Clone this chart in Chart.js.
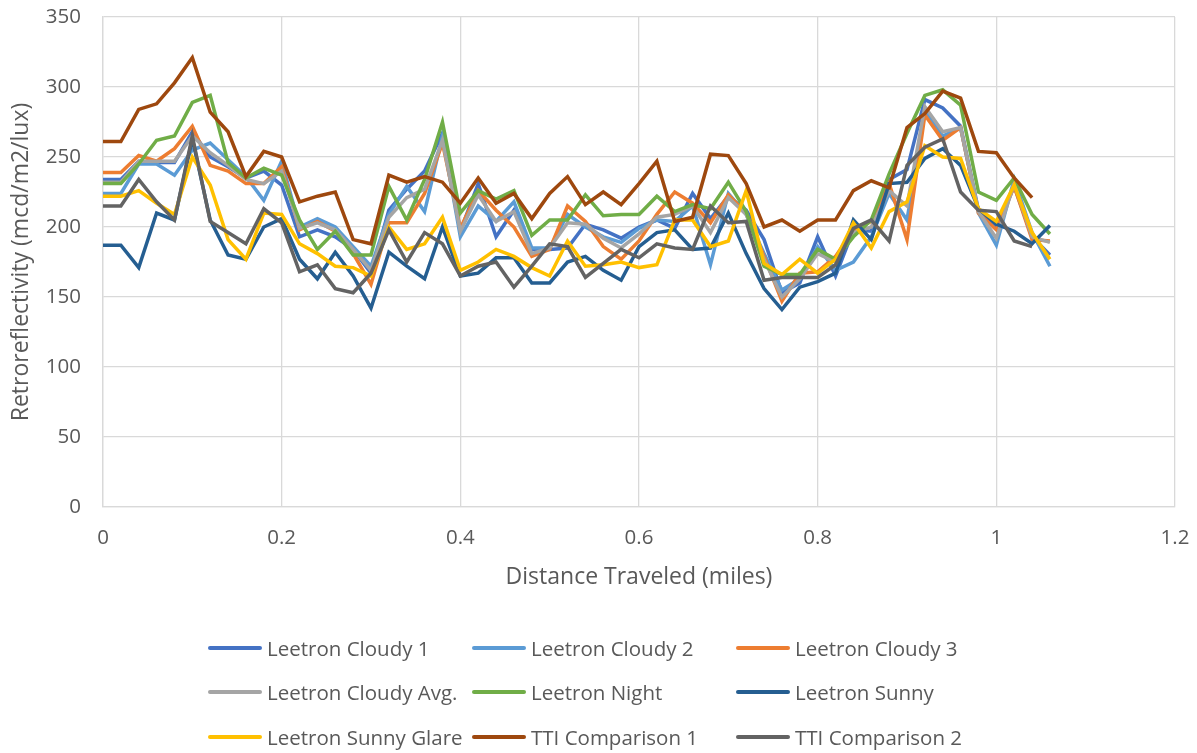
<!DOCTYPE html>
<html>
<head>
<meta charset="utf-8">
<script src="https://cdn.jsdelivr.net/npm/chart.js@4.4.1/dist/chart.umd.min.js"></script>
<style>
body { margin: 0; background: #fff; }
#wrap { position: relative; width: 1197px; height: 753px; }
#legend { position: absolute; left: 0; top: 0; width: 1197px; height: 753px; pointer-events: none; }
.item { position: absolute; height: 28px; display: flex; align-items: center; font-family: "Open Sans", sans-serif; font-size: 20.5px; color: #595959; white-space: nowrap; }
.swatch { width: 54px; height: 3.5px; border-radius: 2px; margin-right: 5px; }
</style>
</head>
<body>
<div id="wrap">
  <canvas id="myChart" width="1197" height="753"></canvas>
  <div id="legend"></div>
</div>
<script>
// distance (miles)
var distance = [0, 0.02, 0.04, 0.06, 0.08, 0.10, 0.12, 0.14, 0.16, 0.18,
    0.20, 0.22, 0.24, 0.26, 0.28, 0.30, 0.32, 0.34, 0.36, 0.38,
    0.40, 0.42, 0.44, 0.46, 0.48, 0.50, 0.52, 0.54, 0.56, 0.58,
    0.60, 0.62, 0.64, 0.66, 0.68, 0.70, 0.72, 0.74, 0.76, 0.78,
    0.80, 0.82, 0.84, 0.86, 0.88, 0.90, 0.92, 0.94, 0.96, 0.98,
    1.00, 1.02, 1.04, 1.06];

var xTicks = [0, 0.2, 0.4, 0.6, 0.8, 1, 1.2];
var yTicks = [0, 50, 100, 150, 200, 250, 300, 350];

var cloudy1 = [234, 234, 247, 246, 246, 268, 250, 243, 235, 240,
    230, 193, 198, 193, 184, 167, 212, 227, 240, 267,
    197, 231, 193, 212, 184, 184, 185, 202, 198, 192,
    200, 205, 199, 224, 206, 222, 212, 191, 153, 160,
    193, 165, 198, 197, 234, 241, 291, 285, 272, 212,
    200, 229, 193, 180];
var cloudy2 = [224, 224, 245, 245, 237, 255, 260, 248, 236, 219,
    247, 200, 206, 200, 186, 172, 209, 229, 211, 265,
    193, 215, 204, 218, 185, 185, 209, 200, 193, 189,
    199, 205, 204, 215, 173, 224, 209, 181, 155, 163,
    186, 169, 175, 193, 224, 205, 283, 265, 271, 210,
    187, 234, 196, 172];
var cloudy3 = [239, 239, 251, 247, 256, 272, 244, 240, 231, 231,
    243, 198, 204, 197, 181, 159, 203, 203, 224, 260,
    199, 226, 212, 200, 179, 184, 215, 204, 186, 177,
    190, 209, 225, 217, 203, 223, 210, 179, 147, 167,
    168, 179, 198, 204, 231, 191, 280, 262, 271, 210,
    198, 229, 191, 190];
var cloudyAvg = [232, 232, 247, 247, 247, 265, 253, 244, 234, 231,
    240, 199, 203, 198, 184, 169, 207, 221, 227, 262,
    197, 223, 204, 211, 181, 185, 203, 202, 192, 185,
    195, 207, 209, 215, 196, 221, 209, 177, 150, 163,
    181, 175, 196, 200, 226, 215, 286, 268, 271, 211,
    192, 231, 193, 189];
var night = [231, 231, 245, 262, 265, 289, 294, 246, 235, 242,
    237, 205, 184, 197, 180, 180, 229, 205, 234, 275,
    210, 226, 220, 226, 194, 205, 205, 223, 208, 209,
    209, 222, 211, 216, 213, 232, 211, 172, 166, 166,
    184, 177, 193, 205, 238, 267, 294, 298, 287, 225,
    219, 235, 209, 195];
var sunny = [187, 187, 171, 210, 205, 263, 205, 180, 177, 200,
    206, 177, 163, 182, 165, 142, 182, 172, 163, 200,
    165, 167, 178, 178, 160, 160, 175, 179, 169, 162,
    186, 196, 198, 184, 185, 210, 181, 156, 141, 157,
    161, 167, 205, 191, 231, 232, 249, 256, 244, 213,
    202, 197, 188, 201];
var sunnyGlare = [222, 222, 226, 217, 209, 250, 230, 191, 177, 210,
    209, 188, 181, 172, 171, 165, 200, 184, 188, 207,
    169, 175, 184, 179, 171, 165, 190, 172, 173, 175,
    171, 173, 205, 205, 186, 190, 226, 174, 166, 177,
    167, 177, 203, 185, 211, 218, 258, 250, 249, 213,
    204, 230, 196, 177];
var tti1 = [261, 261, 284, 288, 303, 321, 282, 268, 236, 254,
    250, 218, 222, 225, 191, 188, 237, 232, 236, 232,
    217, 235, 217, 224, 206, 224, 236, 216, 225, 216,
    231, 247, 204, 207, 252, 251, 231, 200, 205, 197,
    205, 205, 226, 233, 228, 271, 281, 297, 292, 254,
    253, 235, 221, null];
var tti2 = [215, 215, 234, 218, 205, 265, 204, 196, 188, 213,
    203, 168, 173, 156, 153, 167, 198, 175, 196, 188,
    165, 172, 175, 157, 172, 188, 186, 164, 174, 184,
    178, 188, 185, 184, 215, 203, 204, 162, 164, 164,
    164, 173, 199, 205, 190, 244, 257, 263, 225, 212,
    211, 190, 186, null];

var seriesNames = ['Leetron Cloudy 1', 'Leetron Cloudy 2', 'Leetron Cloudy 3',
    'Leetron Cloudy Avg.', 'Leetron Night', 'Leetron Sunny',
    'Leetron Sunny Glare', 'TTI Comparison 1', 'TTI Comparison 2'];
var seriesData = [cloudy1, cloudy2, cloudy3, cloudyAvg, night, sunny, sunnyGlare, tti1, tti2];
var seriesColors = ['#4472C4', '#5B9BD5', '#ED7D31', '#A5A5A5', '#70AD47',
    '#255E91', '#FFC000', '#9E480E', '#636363'];

function points(values) {
    var result = [];
    for (var i = 0; i < values.length; i++) {
        if (values[i] !== null) result.push({x: distance[i], y: values[i]});
    }
    return result;
}

var datasets = [];
for (var i = 0; i < seriesNames.length; i++) {
    datasets.push({
        label: seriesNames[i],
        data: points(seriesData[i]),
        borderColor: seriesColors[i],
        backgroundColor: seriesColors[i],
        borderWidth: 3.5,
        pointRadius: 0,
        tension: 0,
        fill: false,
        order: seriesNames.length - i
    });
}

var tickFont = {family: '"Open Sans", sans-serif', size: 20.5};
var titleFont = {family: '"Open Sans", sans-serif', size: 23};
var gridColor = '#d9d9d9';

var ctx = document.getElementById("myChart");
var myChart = new Chart(ctx, {
    type: 'line',
    data: {datasets: datasets},
    options: {
        responsive: false,
        animation: false,
        layout: {padding: {left: 0, right: 22, top: 17, bottom: 158}},
        plugins: {legend: {display: false}, tooltip: {enabled: false}},
        scales: {
            x: {
                type: 'linear',
                min: 0,
                max: 1.2,
                afterBuildTicks: function (axis) {
                    axis.ticks = xTicks.map(function (v) { return {value: v}; });
                },
                afterFit: function (axis) {
                    axis.height = 88;
                    axis.paddingLeft = 0;
                    axis.paddingRight = 0;
                },
                ticks: {
                    font: tickFont,
                    color: '#595959',
                    padding: 19,
                    maxRotation: 0,
                    callback: function (v) { return String(Math.round(v * 10) / 10); }
                },
                grid: {color: gridColor, lineWidth: 1.3, drawTicks: false},
                border: {color: gridColor, width: 1.3},
                title: {
                    display: true,
                    text: 'Distance Traveled (miles)',
                    font: titleFont,
                    color: '#595959',
                    padding: {top: 0, bottom: 4}
                }
            },
            y: {
                min: 0,
                max: 350,
                afterBuildTicks: function (axis) {
                    axis.ticks = yTicks.map(function (v) { return {value: v}; });
                },
                afterFit: function (axis) {
                    axis.width = 103;
                    axis.paddingTop = 0;
                    axis.paddingBottom = 0;
                },
                ticks: {font: tickFont, color: '#595959', padding: 22},
                grid: {color: gridColor, lineWidth: 1.3, drawTicks: false},
                border: {color: gridColor, width: 1.3},
                title: {
                    display: true,
                    text: 'Retroreflectivity (mcd/m2/lux)',
                    font: titleFont,
                    color: '#595959',
                    padding: {top: 8, bottom: 0}
                }
            }
        }
    }
});

// legend laid out in a 3 x 3 grid like the original
var legend = document.getElementById('legend');
var colLeft = [208, 472, 736];
var rowMid = [648, 692, 737];
for (var i = 0; i < seriesNames.length; i++) {
    var item = document.createElement('div');
    item.className = 'item';
    item.style.left = colLeft[i % 3] + 'px';
    item.style.top = (rowMid[Math.floor(i / 3)] - 14) + 'px';
    var sw = document.createElement('span');
    sw.className = 'swatch';
    sw.style.background = seriesColors[i];
    var tx = document.createElement('span');
    tx.textContent = seriesNames[i];
    item.appendChild(sw);
    item.appendChild(tx);
    legend.appendChild(item);
}
</script>
</body>
</html>
